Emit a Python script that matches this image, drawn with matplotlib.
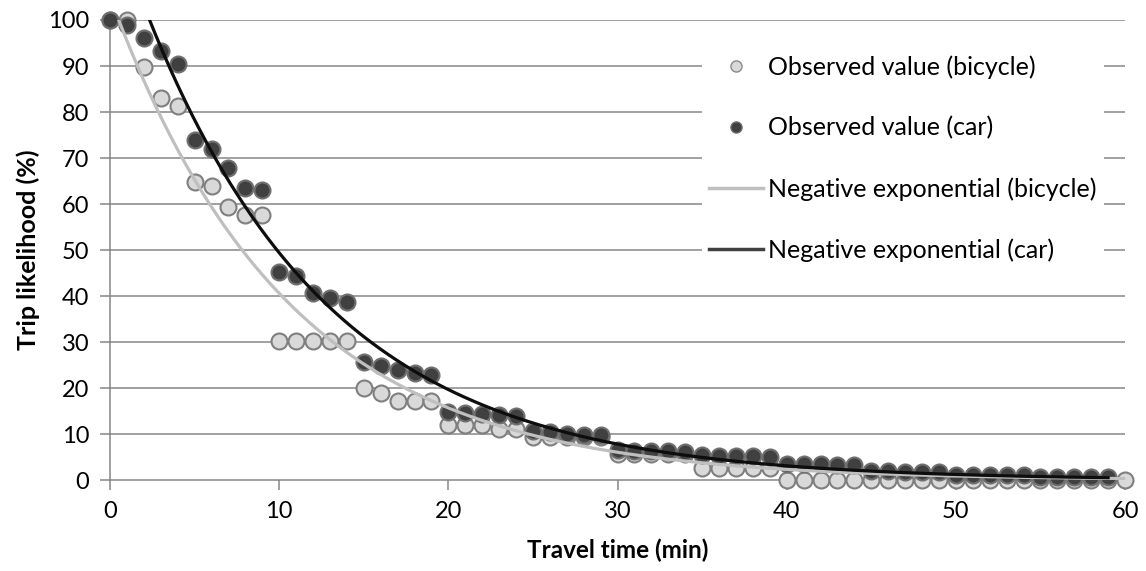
import numpy as np
import matplotlib
matplotlib.use("Agg")
import matplotlib.pyplot as plt
from matplotlib.lines import Line2D

plt.rcParams['font.family'] = ['Lato', 'DejaVu Sans']

minutes_bike = list(range(0, 61))
bike = [100, 100, 89.8, 83, 81.3, 64.8, 63.9, 59.4, 57.6, 57.6,
        30.2, 30.2, 30.2, 30.2, 30.2, 20, 19, 17.2, 17.2, 17.2,
        12.1, 12.1, 12.1, 11.1, 11.1, 9.4, 9.3, 9.3, 9.3, 9.3,
        5.8, 5.8, 5.8, 5.8, 5.8, 2.6, 2.6, 2.6, 2.6, 2.6,
        0, 0, 0, 0, 0, 0, 0, 0, 0, 0,
        0, 0, 0, 0, 0, 0, 0, 0, 0, 0, 0]

minutes_car = list(range(0, 60))
car = [100, 98.9, 96, 93.3, 90.4, 73.9, 72, 67.8, 63.5, 63,
       45.2, 44.3, 40.6, 39.6, 38.7, 25.6, 24.8, 23.9, 23.3, 22.8,
       14.8, 14.6, 14.3, 14.2, 14.0, 10.6, 10.4, 10.1, 9.9, 9.8,
       6.5, 6.4, 6.3, 6.3, 6.2, 5.4, 5.3, 5.2, 5.2, 5.1,
       3.6, 3.5, 3.5, 3.4, 3.4, 1.9, 1.9, 1.8, 1.8, 1.8,
       1.2, 1.2, 1.1, 1.1, 1.1, 0.7, 0.7, 0.7, 0.6, 0.6]

# Negative exponential trendlines y = a * exp(-b * t)
bike_a, bike_b = 105.0, 0.095
car_a, car_b = 124.0, 0.092

fig = plt.figure(figsize=(11.46, 5.71), dpi=100)
ax = fig.add_axes([0.096, 0.159, 0.8857, 0.806])

grid_col = '#868686'
for v in range(10, 101, 10):
    ax.axhline(v, color=grid_col, lw=1.1, zorder=0)

ax.plot(minutes_bike, bike, 'o', ms=11.5, mfc='#d9d9d9', mec='#7f7f7f',
        mew=1.5, clip_on=False, zorder=3)
ax.plot(minutes_car, car, 'o', ms=11.5, mfc='#404040', mec='#6f6f6f',
        mew=1.5, clip_on=False, zorder=4)

tb = np.linspace(0, 60, 400)
tc = np.linspace(0, 59, 400)
ax.plot(tb, bike_a * np.exp(-bike_b * tb), color='#bfbfbf', lw=2.3, zorder=5)
ax.plot(tc, car_a * np.exp(-car_b * tc), color='#0d0d0d', lw=2.3, zorder=6)

ax.set_xlim(0, 60)
ax.set_ylim(0, 100)
ax.set_xticks(range(0, 61, 10))
ax.set_yticks(range(0, 101, 10))
for s in ['top', 'right']:
    ax.spines[s].set_visible(False)
for s in ['left', 'bottom']:
    ax.spines[s].set_color(grid_col)
    ax.spines[s].set_linewidth(1.1)
ax.tick_params(axis='both', direction='out', length=7, width=1.1,
               color=grid_col, labelsize=17, pad=8)

ax.set_xlabel('Travel time (min)', fontsize=17.5, fontweight='bold', labelpad=12)
ax.set_ylabel('Trip likelihood (%)', fontsize=18, fontweight='bold', labelpad=6)

handles = [
    Line2D([], [], ls='none', marker='o', ms=8, mfc='#d9d9d9', mec='#8a8a8a', mew=1),
    Line2D([], [], ls='none', marker='o', ms=8, mfc='#404040', mec='#6f6f6f', mew=1),
    Line2D([], [], color='#bfbfbf', lw=2.5),
    Line2D([], [], color='#404040', lw=2.5),
]
labels = ['Observed value (bicycle)', 'Observed value (car)',
          'Negative exponential (bicycle)', 'Negative exponential (car)']
leg = ax.legend(handles, labels, loc='upper left', bbox_to_anchor=(0.583, 0.94),
                borderaxespad=0, frameon=True, fontsize=18, handlelength=2.15,
                handletextpad=0.2, labelspacing=1.5, borderpad=0.3,
                fancybox=False)
leg.get_frame().set_facecolor('white')
leg.get_frame().set_edgecolor('none')
leg.get_frame().set_alpha(1)
leg.set_zorder(10)

fig.savefig('out.png', dpi=100)
